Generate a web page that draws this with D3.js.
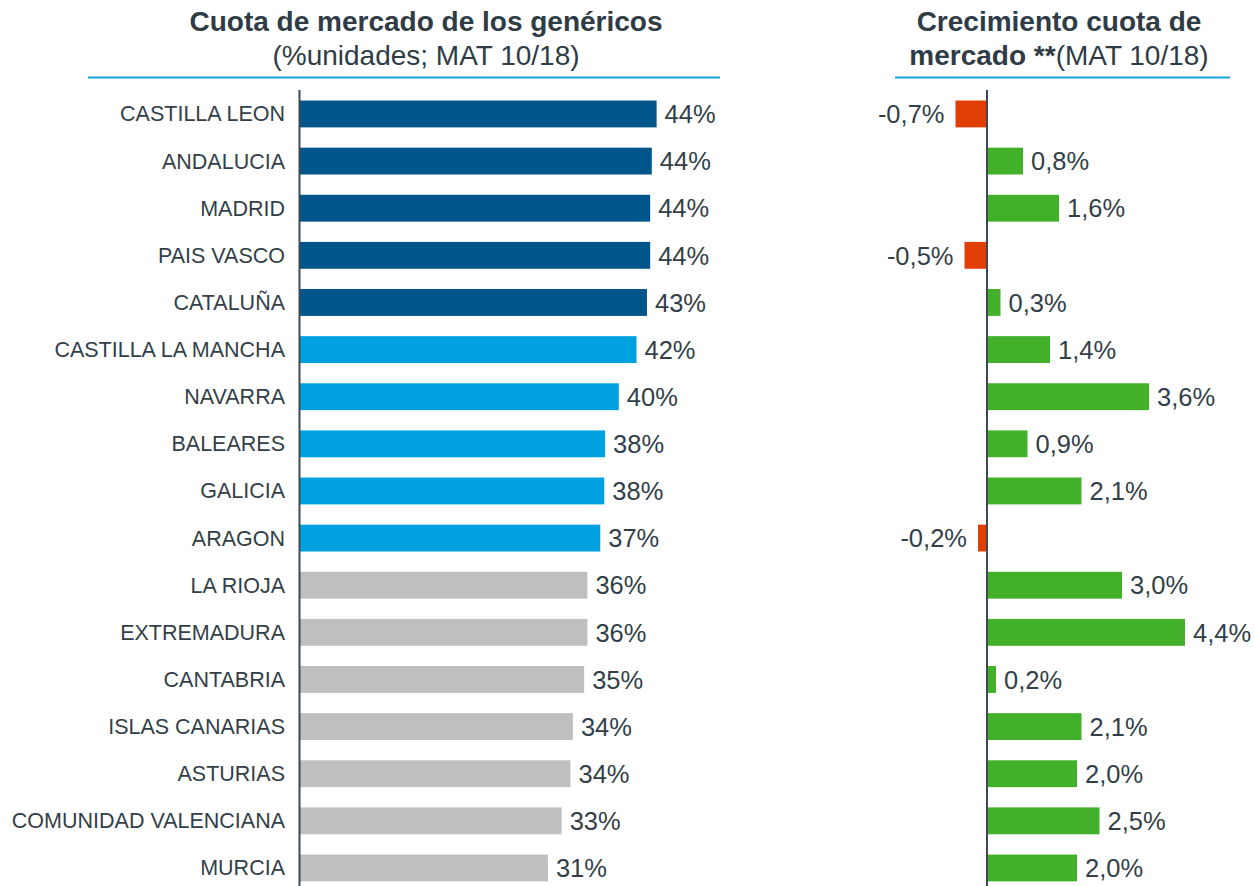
<!DOCTYPE html>
<html>
<head>
<meta charset="utf-8">
<script src="https://cdn.jsdelivr.net/npm/d3@7"></script>
<style>
    body { margin: 0; background: #ffffff; }
    svg { display: block; font-family: "Liberation Sans", Arial, sans-serif; }
    .title { fill: #2f3c46; font-size: 28px; }
    .category { fill: #333f48; font-size: 21.5px; }
    .value { fill: #333f48; font-size: 25.5px; }
</style>
</head>
<body>
<div id="chart"></div>
<script>
// regions, sorted by generic market share
let regions = ['CASTILLA LEON', 'ANDALUCIA', 'MADRID', 'PAIS VASCO', 'CATALUÑA',
    'CASTILLA LA MANCHA', 'NAVARRA', 'BALEARES', 'GALICIA', 'ARAGON', 'LA RIOJA',
    'EXTREMADURA', 'CANTABRIA', 'ISLAS CANARIAS', 'ASTURIAS', 'COMUNIDAD VALENCIANA', 'MURCIA'];

// market share (% units, MAT 10/18)
let shares = [44.3, 43.7, 43.5, 43.5, 43.1, 41.8, 39.6, 37.9, 37.8, 37.3, 35.7, 35.7, 35.3, 33.9, 33.6, 32.5, 30.8];

// share growth (points)
let growth = [-0.7, 0.8, 1.6, -0.5, 0.3, 1.4, 3.6, 0.9, 2.1, -0.2, 3.0, 4.4, 0.2, 2.1, 2.0, 2.5, 2.0];

// colour group of each region: 0 = top, 1 = middle, 2 = rest
let tiers = [0, 0, 0, 0, 0, 1, 1, 1, 1, 1, 2, 2, 2, 2, 2, 2, 2];

let tierColors = ['#00558a', '#00a1e0', '#bfbfbf'];
let posColor = '#43b02a';
let negColor = '#e03e04';
let ruleColor = '#1aa3dc';

let width = 1255, height = 886;

let svg = d3.select('#chart').append('svg')
    .attr('width', width)
    .attr('height', height);

let rowStep = 47.125;
let y = d3.scaleBand()
    .domain(regions)
    .range([90.4, 90.4 + regions.length * rowStep])
    .paddingInner(0.43)
    .paddingOuter(0.215);

let locale = d3.formatLocale({ decimal: ',', thousands: '.', grouping: [3], currency: ['', '€'], minus: '-' });
let fmtGrowth = locale.format('.1f');

// ---- left panel: market share ----
let xShare = d3.scaleLinear().domain([0, 50]).range([300, 702.5]);

let titleL = svg.append('text').attr('class', 'title').attr('text-anchor', 'middle');
titleL.append('tspan').attr('x', 426).attr('y', 31).attr('font-weight', 'bold')
    .text('Cuota de mercado de los genéricos');
titleL.append('tspan').attr('x', 426).attr('y', 65)
    .text('(%unidades; MAT 10/18)');

svg.append('line')
    .attr('x1', 88).attr('x2', 720)
    .attr('y1', 77.5).attr('y2', 77.5)
    .attr('stroke', ruleColor).attr('stroke-width', 2);

svg.append('g')
    .selectAll('rect')
    .data(regions)
    .join('rect')
    .attr('x', xShare(0))
    .attr('y', d => y(d))
    .attr('width', (d, i) => xShare(shares[i]) - xShare(0))
    .attr('height', y.bandwidth())
    .attr('fill', (d, i) => tierColors[tiers[i]]);

svg.append('g')
    .selectAll('text')
    .data(regions)
    .join('text')
    .attr('class', 'category')
    .attr('x', 285)
    .attr('y', d => y(d) + y.bandwidth() / 2)
    .attr('dy', '0.35em')
    .attr('text-anchor', 'end')
    .text(d => d);

svg.append('g')
    .selectAll('text')
    .data(regions)
    .join('text')
    .attr('class', 'value')
    .attr('x', (d, i) => xShare(shares[i]) + 8)
    .attr('y', d => y(d) + y.bandwidth() / 2)
    .attr('dy', '0.36em')
    .text((d, i) => Math.round(shares[i]) + '%');

svg.append('line')
    .attr('x1', 299.5).attr('x2', 299.5)
    .attr('y1', 90).attr('y2', height)
    .attr('stroke', '#3d4a53').attr('stroke-width', 2);

// ---- right panel: growth ----
let xGrowth = d3.scaleLinear().domain([-1, 5]).range([942, 1212]);

let titleR = svg.append('text').attr('class', 'title').attr('text-anchor', 'middle');
titleR.append('tspan').attr('x', 1059).attr('y', 31).attr('font-weight', 'bold')
    .text('Crecimiento cuota de');
let line2 = titleR.append('tspan').attr('x', 1059).attr('y', 65);
line2.append('tspan').attr('font-weight', 'bold').text('mercado **');
line2.append('tspan').text('(MAT 10/18)');

svg.append('line')
    .attr('x1', 895).attr('x2', 1230)
    .attr('y1', 77.5).attr('y2', 77.5)
    .attr('stroke', ruleColor).attr('stroke-width', 2);

svg.append('g')
    .selectAll('rect')
    .data(regions)
    .join('rect')
    .attr('x', (d, i) => xGrowth(Math.min(0, growth[i])))
    .attr('y', d => y(d))
    .attr('width', (d, i) => Math.abs(xGrowth(growth[i]) - xGrowth(0)))
    .attr('height', y.bandwidth())
    .attr('fill', (d, i) => growth[i] < 0 ? negColor : posColor);

svg.append('g')
    .selectAll('text')
    .data(regions)
    .join('text')
    .attr('class', 'value')
    .attr('x', (d, i) => growth[i] < 0 ? xGrowth(growth[i]) - 11 : xGrowth(growth[i]) + 8)
    .attr('y', d => y(d) + y.bandwidth() / 2)
    .attr('dy', '0.36em')
    .attr('text-anchor', (d, i) => growth[i] < 0 ? 'end' : 'start')
    .text((d, i) => fmtGrowth(growth[i]) + '%');

svg.append('line')
    .attr('x1', xGrowth(0)).attr('x2', xGrowth(0))
    .attr('y1', 90).attr('y2', height)
    .attr('stroke', '#3d4a53').attr('stroke-width', 2);
</script>
</body>
</html>
